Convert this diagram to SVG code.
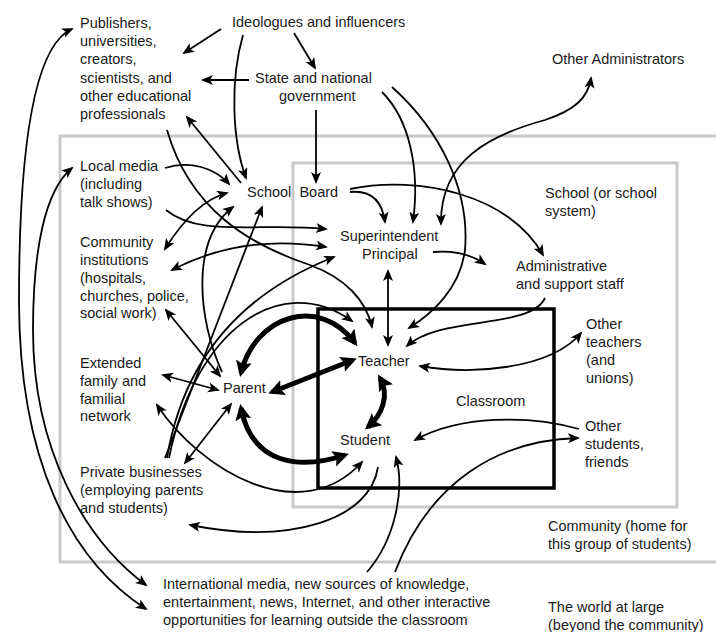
<svg xmlns="http://www.w3.org/2000/svg" width="716" height="632" viewBox="0 0 716 632">
<style>
text{font-family:"Liberation Sans","DejaVu Sans",sans-serif;font-size:14.5px;fill:#1a1a1a}
.box{fill:none;stroke:#c9c9c9;stroke-width:3}
.room{fill:none;stroke:#000;stroke-width:3.5}
.c{fill:none;stroke:#000;stroke-width:1.8}
.t{fill:none;stroke:#000;stroke-width:5}
.e{marker-end:url(#ah)}
.b{marker-start:url(#ah);marker-end:url(#ah)}
.te{marker-start:url(#th);marker-end:url(#th)}
</style>
<defs>
<marker id="ah" markerUnits="userSpaceOnUse" markerWidth="14" markerHeight="12" refX="10" refY="5" orient="auto-start-reverse" viewBox="0 0 14 12">
<path d="M0,0 L12,5 L0,10 L3,5 z" fill="#000"/>
</marker>
<marker id="th" markerUnits="userSpaceOnUse" markerWidth="20" markerHeight="18" refX="12" refY="8" orient="auto-start-reverse" viewBox="0 0 20 18">
<path d="M0,0 L16,8 L0,16 L3,8 z" fill="#000"/>
</marker>
</defs>
<rect width="716" height="632" fill="#fff"/>
<g id="frames">
<rect class="box" x="60" y="136" width="700" height="426"/>
<rect class="box" x="293" y="163" width="384" height="344"/>
<rect class="room" x="318" y="309" width="236" height="179"/>
</g>
<g id="connectors">
<path class="c b" d="M72,29 C35,45 19,140 19,300 C19,460 70,560 146,609"/>
<path class="c b" d="M72,168 C45,190 33,250 33,330 C33,450 85,540 146,585"/>
<path class="c e" d="M221,29 L184,53"/>
<path class="c e" d="M294,33 L315,68"/>
<path class="c e" d="M243,35 C230,80 232,140 246,178"/>
<path class="c e" d="M249,80 L203,80"/>
<path class="c e" d="M316,110 L316,182"/>
<path class="c e" d="M241,183 L187,117"/>
<path class="c e" d="M167,130 C190,210 250,245 310,265 C345,278 366,300 372,327"/>
<path class="c e" d="M165,168 C190,160 215,168 229,184"/>
<path class="c e" d="M166,210 C200,238 260,222 326,229"/>
<path class="c b" d="M165,249 C180,225 200,200 227,193"/>
<path class="c b" d="M172,270 C220,245 270,238 326,247"/>
<path class="c e" d="M222,372 C198,320 190,240 233,207"/>
<path class="c e" d="M165,458 L262,207"/>
<path class="c e" d="M167,458 C185,350 250,290 334,257"/>
<path class="c e" d="M169,458 C195,330 280,270 352,321"/>
<path class="c b" d="M166,310 L220,376"/>
<path class="c b" d="M163,375 L218,390"/>
<path class="c b" d="M157,405 C200,470 300,530 362,462"/>
<path class="c b" d="M185,463 L231,404"/>
<path class="c e" d="M378,467 C370,520 290,545 190,525"/>
<path class="t te" d="M272,392 L353,360"/>
<path class="t te" d="M241,373 C255,315 320,295 355,343"/>
<path class="t te" d="M241,408 C252,465 300,470 345,455"/>
<path class="t te" d="M380,378 C390,395 382,415 368,427"/>
<path class="c b" d="M388,271 L388,345"/>
<path class="c e" d="M350,192 C370,190 382,200 385,222"/>
<path class="c e" d="M382,92 C410,120 420,170 413,222"/>
<path class="c e" d="M392,87 C440,130 470,190 465,250 C460,290 430,315 409,328"/>
<path class="c b" d="M441,224 C440,160 490,135 545,120 C575,110 588,98 591,78"/>
<path class="c e" d="M350,189 C420,175 510,195 543,255"/>
<path class="c e" d="M433,252 C455,250 472,255 485,264"/>
<path class="c e" d="M545,298 C530,330 440,315 407,346"/>
<path class="c b" d="M581,333 C550,370 470,375 420,366"/>
<path class="c e" d="M579,429 C530,415 460,415 415,440"/>
<path class="c e" d="M367,572 C395,540 405,490 396,457"/>
<path class="c e" d="M395,572 C430,480 500,440 578,438"/>
</g>
<g id="publishers"><text x="80" y="28">Publishers,</text><text x="80" y="46">universities,</text><text x="80" y="64">creators,</text><text x="80" y="83">scientists, and</text><text x="80" y="101">other educational</text><text x="80" y="119">professionals</text></g>
<g id="ideologues"><text x="232" y="27">Ideologues and influencers</text></g>
<g id="state"><text x="255" y="83">State and national</text><text x="279" y="101">government</text></g>
<g id="other-admins"><text x="552" y="64">Other Administrators</text></g>
<g id="local-media"><text x="80" y="171">Local media</text><text x="80" y="189">(including</text><text x="80" y="207">talk shows)</text></g>
<g id="school-board"><text x="247" y="197" xml:space="preserve">School  Board</text></g>
<g id="community-inst"><text x="80" y="247">Community</text><text x="80" y="265">institutions</text><text x="80" y="283">(hospitals,</text><text x="80" y="301">churches, police,</text><text x="80" y="318">social work)</text></g>
<g id="school-system"><text x="545" y="198">School (or school</text><text x="545" y="216">system)</text></g>
<g id="superintendent"><text x="340" y="241">Superintendent</text><text x="362" y="259">Principal</text></g>
<g id="admin-staff"><text x="516" y="271">Administrative</text><text x="516" y="289">and support staff</text></g>
<g id="other-teachers"><text x="586" y="329">Other</text><text x="586" y="347">teachers</text><text x="586" y="365">(and</text><text x="586" y="383">unions)</text></g>
<g id="teacher"><text x="358" y="366">Teacher</text></g>
<g id="parent"><text x="223" y="393">Parent</text></g>
<g id="extended"><text x="80" y="368">Extended</text><text x="80" y="386">family and</text><text x="80" y="404">familial</text><text x="80" y="421">network</text></g>
<g id="classroom"><text x="456" y="406">Classroom</text></g>
<g id="student"><text x="340" y="445">Student</text></g>
<g id="other-students"><text x="585" y="431">Other</text><text x="585" y="449">students,</text><text x="585" y="467">friends</text></g>
<g id="private"><text x="80" y="477">Private businesses</text><text x="80" y="495">(employing parents</text><text x="80" y="513">and students)</text></g>
<g id="community"><text x="548" y="531">Community (home for</text><text x="548" y="549">this group of students)</text></g>
<g id="international"><text x="163" y="589">International media, new sources of knowledge,</text><text x="163" y="607">entertainment, news, Internet, and other interactive</text><text x="163" y="625">opportunities for learning outside the classroom</text></g>
<g id="world"><text x="548" y="612">The world at large</text><text x="548" y="630">(beyond the community)</text></g>
</svg>
